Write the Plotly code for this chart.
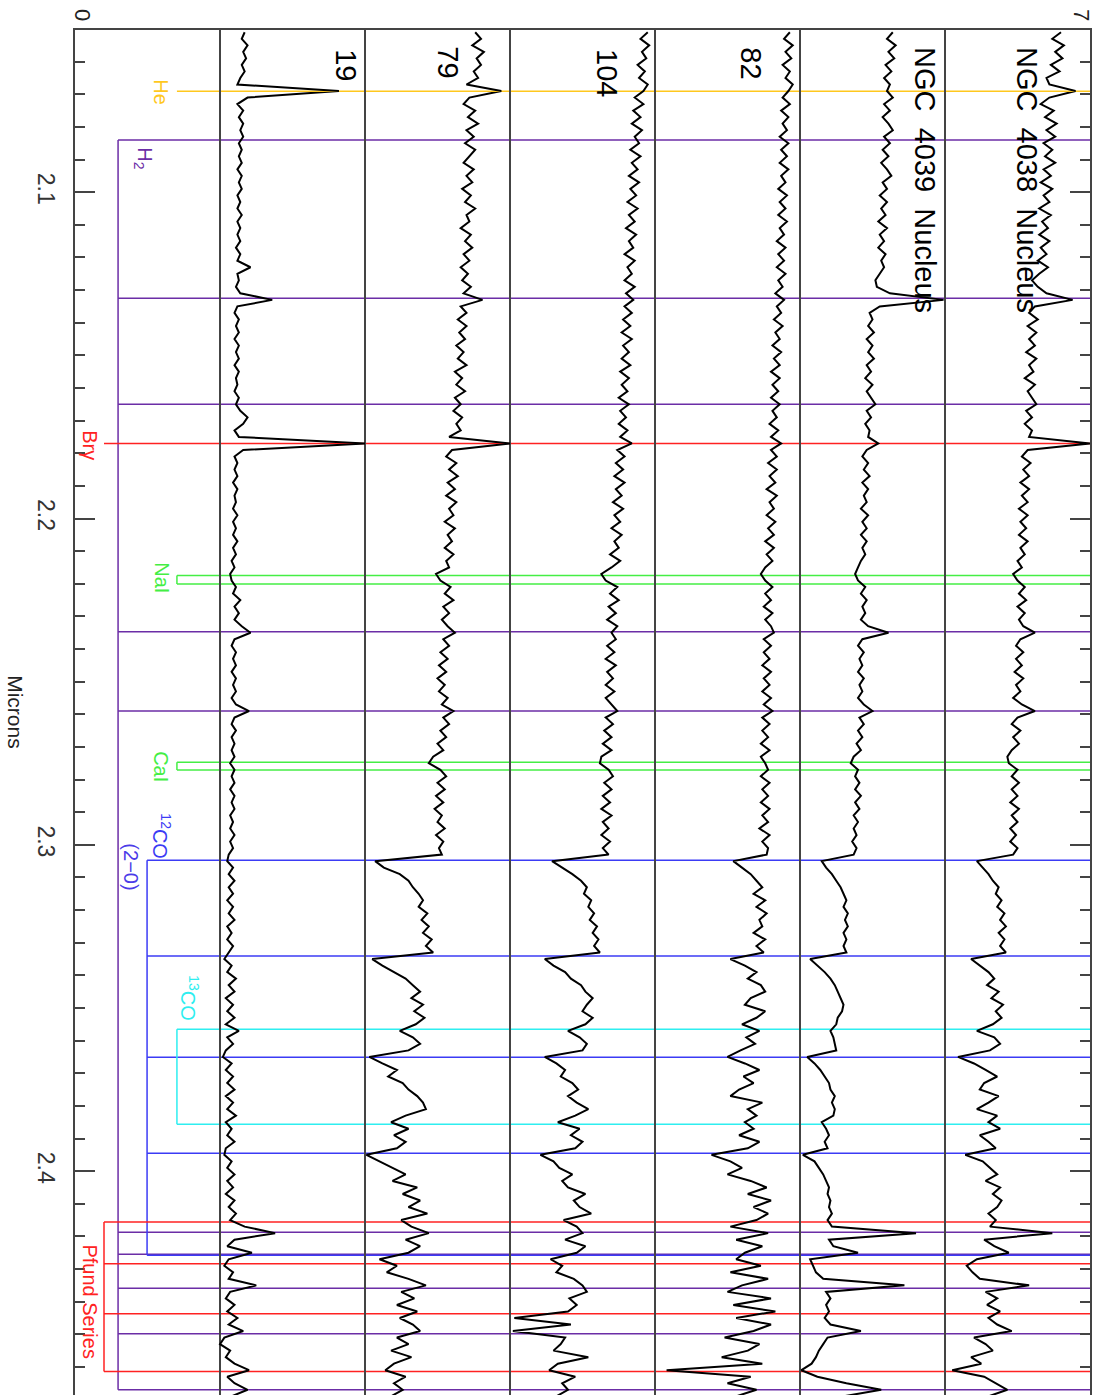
import plotly.graph_objects as go

# ---------------- data ----------------
WAVE_START = 2.051   # microns, first sample
WAVE_STEP = 0.002    # microns per sample
N_SAMPLES = 210
wave = [round(WAVE_START + WAVE_STEP * i, 4) for i in range(N_SAMPLES)]

s19 = [1.17, 1.15, 1.19, 1.16, 1.18, 1.15, 1.17, 1.14, 1.12, 1.82,
       1.19, 1.12, 1.16, 1.13, 1.16, 1.14, 1.16, 1.13, 1.15, 1.13,
       1.15, 1.12, 1.15, 1.13, 1.15, 1.12, 1.14, 1.12, 1.15, 1.12,
       1.14, 1.12, 1.14, 1.11, 1.14, 1.12, 1.21, 1.12, 1.13, 1.11,
       1.14, 1.36, 1.12, 1.10, 1.13, 1.11, 1.13, 1.10, 1.13, 1.11,
       1.13, 1.10, 1.13, 1.11, 1.12, 1.10, 1.13, 1.11, 1.14, 1.19,
       1.16, 1.10, 1.13, 2.00, 1.16, 1.10, 1.12, 1.10, 1.12, 1.09,
       1.12, 1.10, 1.11, 1.09, 1.12, 1.09, 1.11, 1.09, 1.12, 1.09,
       1.11, 1.08, 1.10, 1.07, 1.08, 1.11, 1.09, 1.14, 1.10, 1.13,
       1.10, 1.15, 1.21, 1.10, 1.08, 1.11, 1.09, 1.11, 1.08, 1.11,
       1.09, 1.11, 1.08, 1.11, 1.20, 1.10, 1.08, 1.11, 1.08, 1.10,
       1.08, 1.10, 1.07, 1.10, 1.08, 1.10, 1.07, 1.10, 1.08, 1.10,
       1.07, 1.09, 1.07, 1.10, 1.07, 1.09, 1.06, 1.05, 1.09, 1.06,
       1.10, 1.06, 1.09, 1.05, 1.09, 1.06, 1.10, 1.05, 1.08, 1.05,
       1.09, 1.06, 1.03, 1.08, 1.05, 1.11, 1.06, 1.10, 1.04, 1.09,
       1.05, 1.10, 1.04, 1.13, 1.05, 1.09, 1.04, 1.02, 1.08, 1.04,
       1.09, 1.05, 1.10, 1.04, 1.09, 1.05, 1.11, 1.04, 1.08, 1.05,
       1.10, 1.04, 1.03, 1.08, 1.05, 1.10, 1.05, 1.09, 1.04, 1.10,
       1.06, 1.11, 1.07, 1.17, 1.38, 1.10, 1.05, 1.22, 1.06, 1.03,
       1.09, 1.06, 1.25, 1.07, 1.04, 1.10, 1.05, 1.12, 1.06, 1.16,
       1.03, 1.00, 1.07, 1.04, 1.10, 1.20, 1.05, 1.10, 1.19, 1.08]

s79 = [2.76, 2.80, 2.74, 2.82, 2.77, 2.80, 2.75, 2.78, 2.70, 2.94,
       2.72, 2.68, 2.76, 2.71, 2.78, 2.70, 2.75, 2.69, 2.76, 2.72,
       2.68, 2.75, 2.70, 2.74, 2.67, 2.73, 2.69, 2.76, 2.70, 2.72,
       2.66, 2.73, 2.69, 2.74, 2.68, 2.72, 2.66, 2.71, 2.67, 2.73,
       2.68, 2.81, 2.66, 2.70, 2.64, 2.70, 2.65, 2.69, 2.63, 2.68,
       2.64, 2.70, 2.62, 2.67, 2.63, 2.69, 2.62, 2.66, 2.61, 2.67,
       2.63, 2.66, 2.58, 3.00, 2.60, 2.56, 2.63, 2.58, 2.64, 2.57,
       2.62, 2.56, 2.63, 2.58, 2.61, 2.55, 2.62, 2.57, 2.60, 2.55,
       2.61, 2.56, 2.58, 2.49, 2.52, 2.59, 2.55, 2.61, 2.54, 2.58,
       2.53, 2.57, 2.62, 2.54, 2.58, 2.52, 2.57, 2.51, 2.56, 2.50,
       2.55, 2.51, 2.57, 2.53, 2.61, 2.54, 2.58, 2.52, 2.56, 2.50,
       2.54, 2.47, 2.44, 2.52, 2.56, 2.50, 2.55, 2.49, 2.54, 2.48,
       2.53, 2.50, 2.55, 2.49, 2.54, 2.51, 2.53, 2.07, 2.13, 2.24,
       2.30, 2.33, 2.37, 2.40, 2.37, 2.43, 2.39, 2.44, 2.40, 2.46,
       2.42, 2.47, 2.05, 2.12, 2.20, 2.28, 2.33, 2.38, 2.32, 2.40,
       2.34, 2.41, 2.35, 2.24, 2.33, 2.38, 2.30, 2.03, 2.12, 2.22,
       2.16, 2.26, 2.30, 2.36, 2.40, 2.42, 2.28, 2.18, 2.30, 2.20,
       2.28, 2.22, 2.01, 2.10, 2.20, 2.28, 2.19, 2.36, 2.26, 2.38,
       2.30, 2.43, 2.25, 2.32, 2.44, 2.28, 2.38, 2.30, 2.10, 2.22,
       2.15, 2.30, 2.42, 2.25, 2.34, 2.22, 2.36, 2.24, 2.33, 2.38,
       2.22, 2.30, 2.18, 2.32, 2.20, 2.14, 2.28, 2.20, 2.26, 2.18]

s104 = [3.95, 3.90, 3.96, 3.91, 3.94, 3.88, 3.93, 3.89, 3.95, 3.92,
        3.86, 3.92, 3.85, 3.90, 3.84, 3.91, 3.86, 3.89, 3.83, 3.90,
        3.84, 3.88, 3.82, 3.89, 3.83, 3.87, 3.81, 3.88, 3.82, 3.86,
        3.80, 3.87, 3.82, 3.85, 3.79, 3.86, 3.81, 3.84, 3.79, 3.86,
        3.80, 3.85, 3.79, 3.84, 3.78, 3.83, 3.77, 3.84, 3.78, 3.82,
        3.77, 3.83, 3.76, 3.82, 3.77, 3.81, 3.75, 3.82, 3.76, 3.80,
        3.75, 3.81, 3.76, 3.84, 3.74, 3.79, 3.73, 3.78, 3.72, 3.79,
        3.73, 3.77, 3.71, 3.78, 3.72, 3.76, 3.70, 3.77, 3.72, 3.75,
        3.69, 3.76, 3.70, 3.63, 3.66, 3.74, 3.69, 3.75, 3.68, 3.73,
        3.67, 3.74, 3.70, 3.73, 3.67, 3.72, 3.66, 3.73, 3.67, 3.71,
        3.66, 3.72, 3.66, 3.70, 3.74, 3.66, 3.71, 3.65, 3.70, 3.64,
        3.70, 3.63, 3.62, 3.68, 3.71, 3.65, 3.70, 3.64, 3.69, 3.63,
        3.70, 3.64, 3.68, 3.63, 3.69, 3.64, 3.68, 3.29, 3.36, 3.43,
        3.49, 3.53, 3.51, 3.56, 3.54, 3.58, 3.55, 3.60, 3.57, 3.61,
        3.58, 3.62, 3.24, 3.30, 3.38, 3.42, 3.49, 3.52, 3.57, 3.53,
        3.50, 3.57, 3.52, 3.40, 3.48, 3.53, 3.50, 3.24, 3.32, 3.38,
        3.35, 3.43, 3.47, 3.40, 3.46, 3.54, 3.45, 3.33, 3.48, 3.42,
        3.50, 3.45, 3.21, 3.30, 3.34, 3.43, 3.36, 3.40, 3.52, 3.44,
        3.48, 3.56, 3.37, 3.46, 3.50, 3.38, 3.52, 3.46, 3.28, 3.36,
        3.32, 3.44, 3.50, 3.53, 3.41, 3.46, 3.40, 3.03, 3.42, 3.02,
        3.38, 3.35, 3.30, 3.54, 3.33, 3.27, 3.45, 3.36, 3.40, 3.32]

s82 = [4.93, 4.89, 4.95, 4.90, 4.94, 4.88, 4.93, 4.90, 4.95, 4.92,
       4.88, 4.93, 4.87, 4.92, 4.88, 4.91, 4.86, 4.92, 4.87, 4.91,
       4.86, 4.92, 4.87, 4.90, 4.85, 4.91, 4.86, 4.90, 4.85, 4.91,
       4.86, 4.89, 4.84, 4.90, 4.85, 4.89, 4.84, 4.90, 4.85, 4.88,
       4.83, 4.89, 4.84, 4.87, 4.82, 4.88, 4.83, 4.86, 4.81, 4.87,
       4.82, 4.86, 4.80, 4.86, 4.81, 4.85, 4.80, 4.86, 4.81, 4.84,
       4.79, 4.85, 4.80, 4.87, 4.80, 4.84, 4.78, 4.84, 4.79, 4.83,
       4.77, 4.84, 4.79, 4.82, 4.77, 4.83, 4.78, 4.82, 4.76, 4.82,
       4.77, 4.81, 4.76, 4.73, 4.76, 4.81, 4.76, 4.80, 4.75, 4.81,
       4.76, 4.80, 4.82, 4.75, 4.80, 4.75, 4.79, 4.74, 4.80, 4.75,
       4.79, 4.74, 4.80, 4.75, 4.81, 4.74, 4.79, 4.74, 4.78, 4.73,
       4.79, 4.73, 4.76, 4.78, 4.73, 4.79, 4.74, 4.78, 4.73, 4.79,
       4.74, 4.78, 4.72, 4.79, 4.74, 4.78, 4.77, 4.54, 4.60, 4.66,
       4.70, 4.74, 4.68, 4.76, 4.70, 4.77, 4.72, 4.74, 4.68, 4.76,
       4.70, 4.75, 4.52, 4.62, 4.70, 4.64, 4.73, 4.76, 4.66, 4.62,
       4.76, 4.70, 4.60, 4.72, 4.63, 4.69, 4.59, 4.50, 4.62, 4.72,
       4.61, 4.68, 4.58, 4.52, 4.74, 4.64, 4.70, 4.62, 4.68, 4.58,
       4.72, 4.64, 4.39, 4.52, 4.60, 4.50, 4.66, 4.77, 4.64, 4.80,
       4.68, 4.78, 4.70, 4.52, 4.78, 4.56, 4.74, 4.62, 4.56, 4.73,
       4.52, 4.78, 4.60, 4.50, 4.80, 4.54, 4.83, 4.56, 4.80, 4.68,
       4.48, 4.72, 4.64, 4.46, 4.74, 4.08, 4.66, 4.50, 4.70, 4.56]

s4039 = [5.64, 5.60, 5.66, 5.61, 5.65, 5.59, 5.63, 5.58, 5.62, 5.60,
         5.64, 5.58, 5.62, 5.57, 5.61, 5.64, 5.58, 5.62, 5.57, 5.61,
         5.56, 5.60, 5.63, 5.57, 5.60, 5.55, 5.60, 5.56, 5.59, 5.54,
         5.60, 5.55, 5.58, 5.54, 5.59, 5.56, 5.58, 5.55, 5.52, 5.53,
         5.62, 5.99, 5.55, 5.48, 5.50, 5.47, 5.51, 5.46, 5.50, 5.47,
         5.51, 5.46, 5.49, 5.45, 5.50, 5.46, 5.49, 5.52, 5.46, 5.49,
         5.45, 5.48, 5.47, 5.54, 5.46, 5.43, 5.47, 5.44, 5.48, 5.43,
         5.47, 5.44, 5.46, 5.42, 5.47, 5.43, 5.46, 5.42, 5.46, 5.43,
         5.45, 5.42, 5.40, 5.38, 5.40, 5.45, 5.42, 5.46, 5.43, 5.45,
         5.42, 5.47, 5.61, 5.43, 5.40, 5.44, 5.41, 5.43, 5.40, 5.44,
         5.41, 5.43, 5.40, 5.44, 5.50, 5.41, 5.44, 5.40, 5.43, 5.39,
         5.42, 5.37, 5.35, 5.40, 5.38, 5.41, 5.38, 5.42, 5.38, 5.41,
         5.37, 5.40, 5.37, 5.39, 5.36, 5.39, 5.37, 5.15, 5.18, 5.22,
         5.25, 5.28, 5.30, 5.32, 5.30, 5.33, 5.31, 5.33, 5.30, 5.32,
         5.30, 5.32, 5.07, 5.12, 5.17, 5.21, 5.24, 5.26, 5.28, 5.30,
         5.29, 5.26, 5.25, 5.21, 5.23, 5.24, 5.25, 5.05, 5.10, 5.14,
         5.17, 5.20, 5.21, 5.24, 5.22, 5.24, 5.23, 5.15, 5.18, 5.20,
         5.17, 5.19, 5.02, 5.10, 5.13, 5.16, 5.18, 5.20, 5.19, 5.21,
         5.20, 5.22, 5.19, 5.22, 5.80, 5.20, 5.23, 5.40, 5.07, 5.09,
         5.11, 5.16, 5.72, 5.18, 5.21, 5.18, 5.20, 5.17, 5.21, 5.42,
         5.19, 5.16, 5.13, 5.11, 5.08, 5.01, 5.12, 5.32, 5.56, 5.30]

s4038 = [6.80, 6.74, 6.82, 6.76, 6.81, 6.73, 6.79, 6.70, 6.72, 6.90,
         6.72, 6.66, 6.75, 6.69, 6.77, 6.70, 6.76, 6.68, 6.74, 6.69,
         6.76, 6.68, 6.73, 6.66, 6.74, 6.68, 6.72, 6.65, 6.73, 6.67,
         6.71, 6.65, 6.72, 6.66, 6.70, 6.64, 6.71, 6.65, 6.60, 6.64,
         6.70, 6.88, 6.62, 6.58, 6.64, 6.57, 6.63, 6.58, 6.62, 6.56,
         6.63, 6.58, 6.61, 6.55, 6.62, 6.57, 6.60, 6.63, 6.56, 6.60,
         6.55, 6.60, 6.58, 7.00, 6.57, 6.53, 6.59, 6.54, 6.58, 6.52,
         6.58, 6.53, 6.57, 6.51, 6.57, 6.52, 6.56, 6.51, 6.57, 6.52,
         6.55, 6.50, 6.53, 6.47, 6.50, 6.55, 6.51, 6.56, 6.50, 6.55,
         6.51, 6.54, 6.62, 6.52, 6.49, 6.54, 6.49, 6.53, 6.48, 6.54,
         6.49, 6.52, 6.47, 6.53, 6.62, 6.50, 6.46, 6.52, 6.47, 6.51,
         6.46, 6.43, 6.44, 6.50, 6.46, 6.51, 6.46, 6.50, 6.45, 6.51,
         6.46, 6.50, 6.45, 6.49, 6.45, 6.50, 6.47, 6.22, 6.26, 6.30,
         6.33, 6.37, 6.35, 6.39, 6.36, 6.41, 6.38, 6.42, 6.37, 6.41,
         6.38, 6.42, 6.18, 6.24, 6.30, 6.34, 6.29, 6.37, 6.32, 6.40,
         6.35, 6.39, 6.33, 6.22, 6.34, 6.38, 6.31, 6.09, 6.20, 6.28,
         6.36, 6.27, 6.24, 6.37, 6.30, 6.22, 6.36, 6.30, 6.38, 6.24,
         6.30, 6.35, 6.14, 6.26, 6.31, 6.36, 6.28, 6.38, 6.33, 6.39,
         6.36, 6.30, 6.35, 6.31, 6.74, 6.27, 6.34, 6.44, 6.22, 6.15,
         6.19, 6.24, 6.58, 6.28, 6.36, 6.29, 6.38, 6.30, 6.36, 6.46,
         6.20, 6.28, 6.33, 6.18, 6.25, 6.05, 6.27, 6.35, 6.43, 6.30]

spectra = [s19, s79, s104, s82, s4039, s4038]

# spectrum labels: text, x (flux units), wavelength
spec_labels = ["19", "79", "104", "82",
               "NGC\u00a0 4039\u00a0 Nucleus", "NGC\u00a0 4038\u00a0 Nucleus"]
spec_label_x = [1.869, 2.572, 3.669, 4.662, 5.862, 6.566]
spec_label_w = [2.0611, 2.0602, 2.0635, 2.0605, 2.0963, 2.0963]

# identified lines (observed wavelengths, microns)
HE_LINES = [2.0691]
H2_LINES = [2.0840, 2.1325, 2.1650, 2.2347, 2.2590, 2.4187, 2.4255, 2.4359, 2.4498, 2.4670]
BRG_LINES = [2.1770]
NAI_LINES = [2.2175, 2.2201]
CAI_LINES = [2.2747, 2.2771]
CO12_LINES = [2.3047, 2.3341, 2.3651, 2.3945, 2.4258]
CO13_LINES = [2.3565, 2.3856]
PF_LINES = [2.4156, 2.4284, 2.4437, 2.4614]

X_MIN, X_MAX = 0, 7
Y_TOP, Y_BOTTOM = 2.0503, 2.4686

# ---------------- figure ----------------
fig = go.Figure()
for s in spectra:
    fig.add_trace(go.Scatter(x=s, y=wave, mode="lines",
                             line=dict(color="black", width=2),
                             hoverinfo="skip", showlegend=False))

groups = [
    (HE_LINES, 0.703, "#FFC81E"),
    (H2_LINES, 0.297, "#6B2DA6"),
    (BRG_LINES, 0.200, "#FF2222"),
    (NAI_LINES, 0.703, "#44EE44"),
    (CAI_LINES, 0.703, "#44EE44"),
    (CO12_LINES, 0.497, "#3B3BF5"),
    (CO13_LINES, 0.703, "#2EEEF0"),
    (PF_LINES, 0.200, "#FF2222"),
]
shapes = []
for lines, bx, col in groups:
    for w in lines:
        shapes.append(dict(type="line", xref="x", yref="y", x0=bx, x1=X_MAX,
                           y0=w, y1=w, line=dict(color=col, width=1.5), layer="below"))
    if len(lines) > 1:
        shapes.append(dict(type="line", xref="x", yref="y", x0=bx, x1=bx,
                           y0=min(lines), y1=max(lines),
                           line=dict(color=col, width=1.5), layer="below"))

FONT = "Liberation Sans"
annotations = []
for t, x, w in zip(spec_labels, spec_label_x, spec_label_w):
    annotations.append(dict(text=t, x=x, y=w, xref="x", yref="y", showarrow=False,
                            textangle=90, xanchor="center", yanchor="middle",
                            font=dict(family=FONT, size=29, color="black")))

line_labels = [
    ("He", 0.593, 2.0694, "#FFC81E"),
    ("H<sub>2</sub>", 0.476, 2.0896, "#6B2DA6"),
    ("Brγ", 0.103, 2.1775, "#FF2222"),
    ("NaI", 0.600, 2.2180, "#44EE44"),
    ("CaI", 0.593, 2.2762, "#44EE44"),
    ("<sup>12</sup>CO", 0.600, 2.2974, "#3B3BF5"),
    ("(2−0)", 0.386, 2.3069, "#4B3BE8"),
    ("<sup>13</sup>CO", 0.793, 2.3470, "#2EEEF0"),
    ("Pfund Series", 0.103, 2.4402, "#FF2222"),
]
for t, x, w, col in line_labels:
    annotations.append(dict(text=t, x=x, y=w, xref="x", yref="y", showarrow=False,
                            textangle=90, xanchor="center", yanchor="middle",
                            font=dict(family=FONT, size=20, color=col)))

# x-axis end labels (top) and y-axis title
annotations.append(dict(text="0", x=0.055, y=1, xref="x", yref="paper", yshift=15,
                        showarrow=False, textangle=90, xanchor="center", yanchor="middle",
                        font=dict(family=FONT, size=22, color="#222")))
annotations.append(dict(text="7", x=6.945, y=1, xref="x", yref="paper", yshift=15,
                        showarrow=False, textangle=90, xanchor="center", yanchor="middle",
                        font=dict(family=FONT, size=22, color="#222")))
annotations.append(dict(text="Microns", x=-0.058, y=2.2594, xref="paper", yref="y",
                        showarrow=False, textangle=90, xanchor="center", yanchor="middle",
                        font=dict(family=FONT, size=21, color="#222")))

fig.update_layout(
    width=1099, height=1395,
    margin=dict(l=75, r=9, t=30, b=0),
    paper_bgcolor="white", plot_bgcolor="white",
    shapes=shapes, annotations=annotations,
    xaxis=dict(range=[X_MIN, X_MAX], side="top", showline=True, linecolor="#444",
               linewidth=1.5, ticks="", showticklabels=False, showgrid=True,
               tick0=0, dtick=1, gridcolor="#444", gridwidth=1.5, zeroline=False),
    yaxis=dict(range=[Y_BOTTOM, Y_TOP], tickmode="linear", tick0=2.0, dtick=0.1,
               tickformat=".1f", ticks="inside", ticklen=20, tickwidth=1.5,
               tickcolor="#444", showline=True, linecolor="#444", linewidth=1.5,
               mirror="ticks", showgrid=False, zeroline=False, tickangle=90,
               ticklabelstandoff=8,
               tickfont=dict(family=FONT, size=23, color="#333"),
               minor=dict(ticks="inside", ticklen=10, dtick=0.01, tick0=2.0,
                          tickcolor="#444", tickwidth=1.5, showgrid=False)),
)

fig.write_html("out.html")
